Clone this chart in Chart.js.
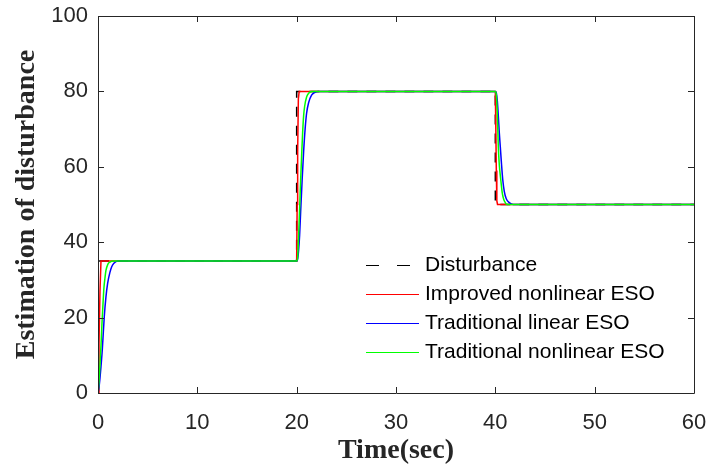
<!DOCTYPE html>
<html>
<head>
<meta charset="utf-8">
<script src="https://cdn.jsdelivr.net/npm/chart.js@4/dist/chart.umd.min.js"></script>
<style>
  body { margin: 0; background: #fff; }
</style>
</head>
<body>
<canvas id="canvasEso" width="708" height="468"></canvas>
<script>
// data
const tDisturbance = [0, 0, 20, 20, 40, 40, 60]
const disturbance = [0, 35, 35, 80, 80, 50, 50]

const tImproved = [0, 0.1, 0.2, 0.3, 20, 20.05, 20.1, 20.17, 20.25, 40, 40.05, 40.1, 40.15, 40.22, 60]
const improved = [0, 13, 27, 35, 35, 50, 64, 78, 80, 80, 70, 59, 51, 50, 50]

const tLinear = [0, 0.1, 0.2, 0.3, 0.43, 0.5, 0.63, 0.8, 0.97, 1.2, 1.38, 1.6, 2.0,
    20, 20.1, 20.2, 20.3, 20.4, 20.55, 20.7, 20.85, 21.0, 21.2, 21.5, 21.8, 22.2,
    40, 40.1, 40.2, 40.3, 40.4, 40.5, 40.6, 40.75, 40.9, 41.1, 41.4, 41.8, 60]
const linear = [0, 1.5, 4, 7, 11.4, 14.5, 20.2, 25.5, 29.1, 32, 33.5, 34.4, 35,
    35, 35.5, 38, 42, 48, 56.5, 64, 70, 74.2, 77, 79, 79.7, 80,
    80, 79.6, 77.5, 73.5, 69, 65.3, 61.5, 56.5, 53.5, 51.5, 50.5, 50, 50]

const tNonlinear = [0, 0.1, 0.2, 0.3, 0.4, 0.5, 0.6, 0.7, 0.8, 1.0, 1.2, 1.5,
    20, 20.1, 20.2, 20.3, 20.4, 20.5, 20.6, 20.7, 20.8, 21.0, 21.2, 21.5,
    40, 40.1, 40.2, 40.3, 40.4, 40.55, 40.7, 40.85, 41.0, 41.15, 60]
const nonlinear = [0, 3, 7.5, 12.5, 18.5, 23.5, 28, 30.5, 32.5, 34.2, 34.7, 35,
    35, 36, 42, 49, 56.5, 63, 69, 73.5, 76, 78.5, 79.5, 80,
    80, 79, 74, 65.3, 60.5, 56.5, 53, 51.3, 50.5, 50, 50]

const xTicks = [0, 10, 20, 30, 40, 50, 60]
const yTicks = [0, 20, 40, 60, 80, 100]

const seriesNames = ["Disturbance", "Improved nonlinear ESO", "Traditional linear ESO", "Traditional nonlinear ESO"]
const seriesColors = ["#000000", "#ff0000", "#0000ff", "#00ff00"]

const toPoints = (xs, ys) => xs.map((x, i) => ({ x, y: ys[i] }))

//#region plugins
// inside tick marks and box, like the matlab axes
const boxTicks = {
    id: "boxTicks",
    afterDraw: chart => {
        const { ctx, chartArea: a, scales: { x, y } } = chart
        const len = 6
        ctx.save()
        ctx.strokeStyle = "#262626"
        ctx.lineWidth = 1
        ctx.beginPath()
        xTicks.forEach(v => {
            let px = Math.round(x.getPixelForValue(v)) + 0.5
            ctx.moveTo(px, a.bottom); ctx.lineTo(px, a.bottom - len)
            ctx.moveTo(px, a.top); ctx.lineTo(px, a.top + len)
        })
        yTicks.forEach(v => {
            let py = Math.round(y.getPixelForValue(v)) + 0.5
            ctx.moveTo(a.left, py); ctx.lineTo(a.left + len, py)
            ctx.moveTo(a.right, py); ctx.lineTo(a.right - len, py)
        })
        ctx.rect(Math.round(a.left) + 0.5, Math.round(a.top) + 0.5, Math.round(a.right - a.left), Math.round(a.bottom - a.top))
        ctx.stroke()
        ctx.restore()
    }
}

const insideLegend = {
    id: "insideLegend",
    afterDraw: chart => {
        const { ctx } = chart
        ctx.save()
        ctx.font = "21px 'Liberation Sans', Arial, sans-serif"
        ctx.textBaseline = "middle"
        ctx.fillStyle = "#000"
        seriesNames.forEach((name, i) => {
            let yy = 265 + i * 29
            ctx.strokeStyle = seriesColors[i]
            ctx.lineWidth = 1.2
            ctx.setLineDash(i === 0 ? [13, 18] : [])
            ctx.beginPath()
            ctx.moveTo(366, yy + 0.5)
            ctx.lineTo(419, yy + 0.5)
            ctx.stroke()
            ctx.fillText(name, 425, yy)
        })
        ctx.restore()
    }
}
//#endregion

const tickFont = { family: "'Liberation Sans', Arial, sans-serif", size: 22 }
const titleFont = { family: "'Liberation Serif', 'Times New Roman', serif", size: 28, weight: "bold" }

// fixed axis box sizes so the plot area lands where the figure has it
const fixSize = (prop, size) => scale => {
    scale[prop] = size
    scale.paddingLeft = 0
    scale.paddingRight = 0
    scale.paddingTop = 0
    scale.paddingBottom = 0
}

new Chart(document.getElementById("canvasEso"), {
    type: "line",
    data: {
        datasets: [
            {
                label: seriesNames[0],
                data: toPoints(tDisturbance, disturbance),
                borderColor: seriesColors[0],
                borderDash: [10, 9],
                borderWidth: 1.5,
                order: 4
            },
            {
                label: seriesNames[1],
                data: toPoints(tImproved, improved),
                borderColor: seriesColors[1],
                borderWidth: 1.5,
                order: 3
            },
            {
                label: seriesNames[2],
                data: toPoints(tLinear, linear),
                borderColor: seriesColors[2],
                borderWidth: 1.5,
                cubicInterpolationMode: "monotone",
                order: 2
            },
            {
                label: seriesNames[3],
                data: toPoints(tNonlinear, nonlinear),
                borderColor: seriesColors[3],
                borderWidth: 1.5,
                cubicInterpolationMode: "monotone",
                order: 1
            }
        ]
    },
    options: {
        responsive: false,
        animation: false,
        elements: { point: { radius: 0 }, line: { fill: false } },
        layout: { padding: { top: 16, right: 14, left: 0, bottom: 0 } },
        plugins: { legend: { display: false }, tooltip: { enabled: false } },
        scales: {
            x: {
                type: "linear",
                min: 0,
                max: 60,
                afterFit: fixSize("height", 75),
                afterBuildTicks: scale => { scale.ticks = xTicks.map(value => ({ value })) },
                grid: { display: false, drawTicks: false },
                border: { display: false },
                ticks: { color: "#262626", font: tickFont, padding: 17, maxRotation: 0 },
                title: { display: true, text: "Time(sec)", color: "#262626", font: titleFont, padding: { top: 0, bottom: 0 } }
            },
            y: {
                type: "linear",
                min: 0,
                max: 100,
                afterFit: fixSize("width", 98),
                afterBuildTicks: scale => { scale.ticks = yTicks.map(value => ({ value })) },
                grid: { display: false, drawTicks: false },
                border: { display: false },
                ticks: { color: "#262626", font: tickFont, padding: 10 },
                title: { display: true, text: "Estimation of disturbance", color: "#262626", font: titleFont, padding: { top: 10, bottom: 0 } }
            }
        }
    },
    plugins: [boxTicks, insideLegend]
})
</script>
</body>
</html>
